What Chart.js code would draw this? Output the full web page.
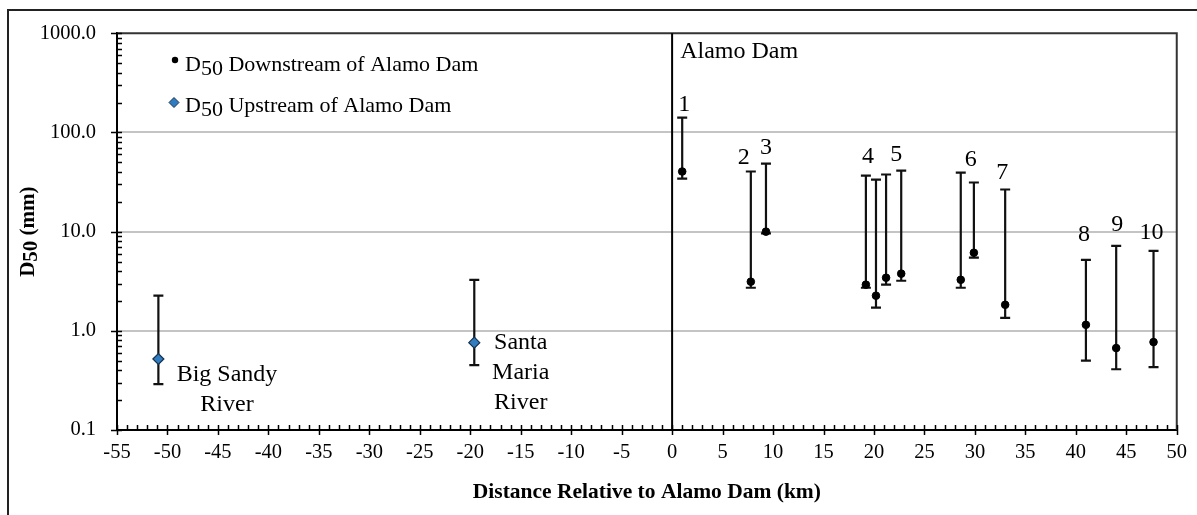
<!DOCTYPE html>
<html>
<head>
<meta charset="utf-8">
<script src="https://cdn.jsdelivr.net/npm/chart.js@4/dist/chart.umd.min.js"></script>
<style>
  html, body { margin: 0; padding: 0; background: #fff; }
</style>
</head>
<body>
<canvas id="d50Chart" width="1197" height="515"></canvas>
<script>
const SERIF = '"Liberation Serif", "Times New Roman", serif';

// downstream sampling sites: distance below the dam (km), D50 and its range (mm)
const downKm   = [1.0, 7.8, 9.3, 19.2, 20.2, 21.2, 22.7, 28.6, 29.9, 33.0, 41.0, 44.0, 47.7];
const downD50  = [40.4, 3.13, 10.0, 2.92, 2.26, 3.43, 3.77, 3.27, 6.13, 1.83, 1.15, 0.67, 0.77];
const downHigh = [141, 40.4, 48.6, 36.8, 33.5, 37.7, 41.3, 39.4, 31.3, 26.6, 5.2, 7.2, 6.4];
const downLow  = [34.3, 2.72, 9.6, 2.72, 1.71, 2.92, 3.2, 2.72, 5.46, 1.35, 0.50, 0.41, 0.43];

// upstream tributaries (Big Sandy, Santa Maria)
const upKm   = [-50.9, -19.6];
const upD50  = [0.52, 0.76];
const upHigh = [2.26, 3.27];
const upLow  = [0.29, 0.45];

const seriesNames = ['Downstream of Alamo Dam', 'Upstream of Alamo Dam'];
const xTicks = [-55, -50, -45, -40, -35, -30, -25, -20, -15, -10, -5, 0, 5, 10, 15, 20, 25, 30, 35, 40, 45, 50];
const yTicks = [0.1, 1, 10, 100, 1000];

// site numbers written above the bars (anchored in km / mm)
const siteNames = ['1', '2', '3', '4', '5', '6', '7', '8', '9', '10'];
const siteNameKm = [1.2, 7.1, 9.3, 19.4, 22.2, 29.6, 32.7, 40.8, 44.1, 47.5];
const siteNameD  = [163, 48.6, 60, 49.7, 51, 46.4, 34.3, 8.1, 10.2, 8.5];

// other text notes on the plot
const notes = [
  { lines: ['Alamo Dam'], km: 0.8, d: 559, align: 'left' },
  { lines: ['Big Sandy', 'River'], km: -44.1, d: 0.31, align: 'center' },
  { lines: ['Santa', 'Maria', 'River'], km: -15.0, d: 0.66, align: 'center' }
];

const isDecade = v => Math.abs(Math.log10(v) - Math.round(Math.log10(v))) < 1e-9;

// outer frame of the figure
const framePlugin = {
  id: 'frame',
  beforeDraw(chart) {
    const { ctx } = chart;
    ctx.save();
    ctx.strokeStyle = '#222';
    ctx.lineWidth = 2;
    ctx.beginPath();
    ctx.moveTo(8, 515);
    ctx.lineTo(8, 10);
    ctx.lineTo(1197, 10);
    ctx.stroke();
    ctx.restore();
  }
};

// plot box, minor ticks, dam line and error bars
const errorBarPlugin = {
  id: 'errorBars',
  beforeDatasetsDraw(chart) {
    const { ctx, chartArea: a, scales: { x, y } } = chart;
    ctx.save();

    // top and right edge of the plot
    ctx.strokeStyle = '#333';
    ctx.lineWidth = 2;
    ctx.beginPath();
    ctx.moveTo(a.left, a.top);
    ctx.lineTo(a.right, a.top);
    ctx.lineTo(a.right, a.bottom);
    ctx.stroke();

    // x ticks: minor inside, major across the axis
    ctx.strokeStyle = '#000';
    ctx.lineWidth = 1.5;
    ctx.beginPath();
    for (let k = -55; k <= 50; k++) {
      const px = Math.round(x.getPixelForValue(k)) + 0.5;
      const major = k % 5 === 0;
      ctx.moveTo(px, a.bottom - 5);
      ctx.lineTo(px, a.bottom + (major ? 5 : 0));
    }
    // y ticks: minor inside, major across the axis
    for (let n = -1; n <= 2; n++) {
      for (let m = 1; m <= 9; m++) {
        const py = Math.round(y.getPixelForValue(m * Math.pow(10, n))) + 0.5;
        ctx.moveTo(a.left - (m === 1 ? 6 : 0), py);
        ctx.lineTo(a.left + 5, py);
      }
    }
    const pTop = Math.round(y.getPixelForValue(1000)) + 0.5;
    ctx.moveTo(a.left - 6, pTop);
    ctx.lineTo(a.left + 5, pTop);
    ctx.stroke();

    // Alamo Dam line at 0 km
    const dam = x.getPixelForValue(0);
    ctx.lineWidth = 2;
    ctx.beginPath();
    ctx.moveTo(dam, a.top);
    ctx.lineTo(dam, a.bottom);
    ctx.stroke();

    // error bars
    ctx.strokeStyle = '#111';
    ctx.lineWidth = 2.2;
    const bar = (km, lo, hi) => {
      const px = x.getPixelForValue(km);
      const yl = y.getPixelForValue(lo), yh = y.getPixelForValue(hi);
      ctx.beginPath();
      ctx.moveTo(px, yl); ctx.lineTo(px, yh);
      ctx.moveTo(px - 5, yl); ctx.lineTo(px + 5, yl);
      ctx.moveTo(px - 5, yh); ctx.lineTo(px + 5, yh);
      ctx.stroke();
    };
    downKm.forEach((k, i) => bar(k, downLow[i], downHigh[i]));
    upKm.forEach((k, i) => bar(k, upLow[i], upHigh[i]));
    ctx.restore();
  }
};

// text: legend, y title with subscript, site numbers, notes
const textPlugin = {
  id: 'texts',
  afterDraw(chart) {
    const { ctx, chartArea: a, scales: { x, y } } = chart;
    ctx.save();
    ctx.fillStyle = '#000';
    ctx.textBaseline = 'alphabetic';

    // legend
    const rows = [
      { base: 71, draw: () => { ctx.beginPath(); ctx.arc(175, 60, 3.2, 0, Math.PI * 2); ctx.fillStyle = '#000'; ctx.fill(); } },
      { base: 112, draw: () => {
          ctx.beginPath();
          ctx.moveTo(174, 97.5); ctx.lineTo(179, 102.5); ctx.lineTo(174, 107.5); ctx.lineTo(169, 102.5); ctx.closePath();
          ctx.fillStyle = '#2f7cc0'; ctx.fill();
          ctx.strokeStyle = '#1a3450'; ctx.lineWidth = 1; ctx.stroke();
        } }
    ];
    rows.forEach((r, i) => {
      r.draw();
      ctx.fillStyle = '#000';
      ctx.font = '22px ' + SERIF;
      ctx.textAlign = 'left';
      let cx = 185;
      ctx.fillText('D', cx, r.base);
      cx += ctx.measureText('D').width;
      ctx.fillText('50', cx, r.base + 4);
      cx += ctx.measureText('50 ').width;
      ctx.fillText(seriesNames[i], cx, r.base);
    });

    // y axis title, D50 (mm)
    ctx.save();
    ctx.translate(34, (a.top + a.bottom) / 2);
    ctx.rotate(-Math.PI / 2);
    ctx.font = 'bold 21px ' + SERIF;
    const wD = ctx.measureText('D').width, w50 = ctx.measureText('50').width, wR = ctx.measureText(' (mm)').width;
    let tx = -(wD + w50 + wR) / 2;
    ctx.textAlign = 'left';
    ctx.fillText('D', tx, 0);
    ctx.fillText('50', tx + wD, 3);
    ctx.fillText(' (mm)', tx + wD + w50, 0);
    ctx.restore();

    // site numbers
    ctx.font = '24px ' + SERIF;
    ctx.textAlign = 'center';
    siteNames.forEach((s, i) => {
      ctx.fillText(s, x.getPixelForValue(siteNameKm[i]), y.getPixelForValue(siteNameD[i]));
    });

    // notes
    notes.forEach(n => {
      ctx.textAlign = n.align;
      const px = x.getPixelForValue(n.km), py = y.getPixelForValue(n.d);
      n.lines.forEach((line, j) => ctx.fillText(line, px, py + j * 30));
    });
    ctx.restore();
  }
};

const ctx = document.getElementById('d50Chart').getContext('2d');
const chart = new Chart(ctx, {
  type: 'scatter',
  data: {
    datasets: [
      {
        label: seriesNames[0],
        data: downKm.map((k, i) => ({ x: k, y: downD50[i] })),
        pointStyle: 'circle',
        pointRadius: 3.8,
        backgroundColor: '#000',
        borderColor: '#000',
        borderWidth: 1
      },
      {
        label: seriesNames[1],
        data: upKm.map((k, i) => ({ x: k, y: upD50[i] })),
        pointStyle: 'rectRot',
        pointRadius: 5.5,
        backgroundColor: '#2f7cc0',
        borderColor: '#16324f',
        borderWidth: 1.2
      }
    ]
  },
  options: {
    responsive: false,
    animation: false,
    devicePixelRatio: 1,
    layout: { padding: { top: 33, right: 18, left: 0, bottom: 0 } },
    plugins: {
      legend: { display: false },
      tooltip: { enabled: false }
    },
    scales: {
      x: {
        type: 'linear',
        min: -55,
        max: 50,
        afterBuildTicks: s => { s.ticks = xTicks.map(v => ({ value: v })); },
        afterFit: s => { s.height = 85; },
        grid: { drawOnChartArea: false, drawTicks: false },
        border: { display: true, color: '#000', width: 2 },
        ticks: {
          autoSkip: false,
          maxRotation: 0,
          padding: 10,
          color: '#000',
          font: { family: SERIF, size: 20.5 }
        },
        title: {
          display: true,
          text: 'Distance Relative to Alamo Dam (km)',
          color: '#000',
          font: { family: SERIF, size: 21.5, weight: 'bold' },
          padding: { top: 0, bottom: 10 }
        }
      },
      y: {
        type: 'logarithmic',
        min: 0.1,
        max: 1000,
        afterBuildTicks: s => { s.ticks = yTicks.map(v => ({ value: v })); },
        afterFit: s => { s.width = 117; },
        grid: {
          drawTicks: false,
          lineWidth: 2,
          color: c => (c.tick && c.tick.value > 0.1 && c.tick.value < 1000) ? '#c4c4c4' : 'rgba(0,0,0,0)'
        },
        border: { display: true, color: '#000', width: 2 },
        ticks: {
          autoSkip: false,
          padding: 21,
          color: '#000',
          font: { family: SERIF, size: 20.5 },
          callback: v => isDecade(v) ? Number(v).toFixed(1) : ''
        }
      }
    }
  },
  plugins: [framePlugin, errorBarPlugin, textPlugin]
});
</script>
</body>
</html>
